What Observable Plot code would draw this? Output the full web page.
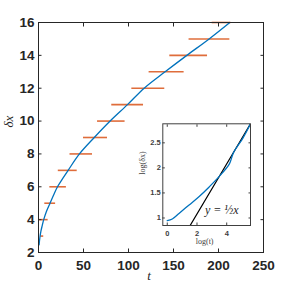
<!DOCTYPE html>
<html>
<head>
<meta charset="utf-8">
<script src="https://cdn.jsdelivr.net/npm/d3@7"></script>
<script src="https://cdn.jsdelivr.net/npm/@observablehq/plot@0.6"></script>
<style>
  html, body { margin: 0; padding: 0; background: #fff; }
  #wrap { position: relative; width: 291px; height: 291px; overflow: hidden; }
  #inset { position: absolute; left: 135px; top: 115px; }
  g[aria-label$="tick label"] text { font-weight: bold; }
</style>
</head>
<body>
<div id="wrap"><div id="main"></div><div id="inset"></div></div>
<script>
// Main curve (t, δx)
const curveT  = [0.7, 1.5, 2.7, 4.2, 5.8, 8.8, 12.8, 16.8, 21.1, 26.8, 32.9, 45.5, 62, 79.6, 98.9, 117.4, 140.7, 164.8, 189.6, 212.6];
const curveDx = [2.47, 2.9, 3.3, 3.65, 4, 4.5, 5, 5.5, 6, 6.5, 7, 8, 9, 10, 11, 12, 13, 14, 15, 16];
// Red horizontal segments: level and t range
const segLevel = [3, 4, 5, 6, 7, 8, 9, 10, 11, 12, 13, 14, 15, 16];
const segStart = [2.5, 0.7, 7, 12.6, 22, 35, 50, 65.6, 81.4, 103.7, 122.9, 145.9, 167.3, 193];
const segEnd   = [5.8, 10.7, 19, 31, 43, 60, 76.7, 96.2, 116.7, 140.3, 161.8, 187.8, 212.6, 213.7];
// Inset curve log(t), log(δx)
const insetLogT  = [0, 0.34, 0.79, 1.47, 2.15, 2.82, 3.5, 4.18, 4.45, 5.08, 5.6];
const insetLogDx = [0.947, 0.98, 1.09, 1.26, 1.43, 1.62, 1.83, 2.08, 2.30, 2.59, 2.88];
// Inset reference line y = x/2 (+ offset), endpoints
const refLineX = [1.54, 5.6];
const refLineY = [0.85, 2.88];
// Ticks
const xTicks = [0, 50, 100, 150, 200, 250];
const yTicks = [2, 4, 6, 8, 10, 12, 14, 16];
const insetXTicks = [0, 2, 4];
const insetYTicks = [1, 1.5, 2, 2.5];

const curve = curveT.map((t, i) => ({t, dx: curveDx[i]}));
const segs = segLevel.map((l, i) => ({level: l, t0: segStart[i], t1: segEnd[i]}));
const inset = insetLogT.map((x, i) => ({x, y: insetLogDx[i]}));
const ref = refLineX.map((x, i) => ({x, y: refLineY[i]}));

const ink = "#262626";
const main = Plot.plot({
  width: 291, height: 291,
  marginLeft: 38, marginRight: 28, marginTop: 22, marginBottom: 39,
  style: {fontFamily: "'Liberation Sans', Arial, sans-serif", color: ink, background: "white"},
  x: {domain: [0, 250]},
  y: {domain: [2, 16]},
  marks: [
    Plot.ruleY(segs, {y: "level", x1: "t0", x2: "t1", stroke: "#D95319", strokeWidth: 1.6, strokeOpacity: 0.85}),
    Plot.line(curve, {x: "t", y: "dx", stroke: "#0072BD", strokeWidth: 1.3, curve: "catmull-rom"}),
    Plot.frame({stroke: ink, strokeWidth: 1}),
    Plot.axisX({ticks: xTicks, anchor: "bottom", tickSize: -3.5, tickFormat: () => "", label: null, stroke: ink}),
    Plot.axisX({ticks: xTicks, anchor: "top", tickSize: -3.5, tickFormat: () => "", label: null, stroke: ink}),
    Plot.axisY({ticks: yTicks, anchor: "left", tickSize: -3.5, tickFormat: () => "", label: null, stroke: ink}),
    Plot.axisY({ticks: yTicks, anchor: "right", tickSize: -3.5, tickFormat: () => "", label: null, stroke: ink}),
    Plot.axisX({ticks: xTicks, anchor: "bottom", tickSize: 0, tickPadding: 8, label: null, fontSize: 13.5, fill: ink}),
    Plot.axisY({ticks: yTicks, anchor: "left", tickSize: 0, tickPadding: 4, label: null, fontSize: 13.5, fill: ink}),
    Plot.text(["δx"], {frameAnchor: "left", dx: -30, dy: -10, rotate: -90, fontSize: 13, fontStyle: "italic", fontFamily: "'Liberation Serif', serif", fill: ink}),
    Plot.text(["t"], {frameAnchor: "bottom", dx: -2, dy: 27, fontSize: 13, fontStyle: "italic", fontFamily: "'Liberation Serif', serif", fill: ink})
  ]
});
document.getElementById("main").appendChild(main);

const insetPlot = Plot.plot({
  width: 120, height: 140,
  marginLeft: 27.3, marginRight: 5, marginTop: 8.3, marginBottom: 30,
  style: {fontFamily: "'Liberation Sans', Arial, sans-serif", color: "#404040", background: "transparent"},
  x: {domain: [-0.3, 5.6]},
  y: {domain: [0.85, 2.88]},
  marks: [
    Plot.frame({fill: "white", stroke: "none"}),
    Plot.line(ref, {x: "x", y: "y", stroke: "black", strokeWidth: 1.2, clip: true}),
    Plot.line(inset, {x: "x", y: "y", stroke: "#0072BD", strokeWidth: 1.3, curve: "catmull-rom", clip: true}),
    Plot.frame({stroke: "#404040", strokeWidth: 1}),
    Plot.axisX({ticks: insetXTicks, anchor: "bottom", tickSize: -2.5, tickFormat: () => "", label: null}),
    Plot.axisX({ticks: insetXTicks, anchor: "top", tickSize: -2.5, tickFormat: () => "", label: null}),
    Plot.axisY({ticks: insetYTicks, anchor: "left", tickSize: -2.5, tickFormat: () => "", label: null}),
    Plot.axisY({ticks: insetYTicks, anchor: "right", tickSize: -2.5, tickFormat: () => "", label: null}),
    Plot.axisX({ticks: insetXTicks, anchor: "bottom", tickSize: 0, tickPadding: 5, label: null, fontSize: 7.5, fill: "#404040", tickFormat: d => String(d)}),
    Plot.axisY({ticks: insetYTicks, anchor: "left", tickSize: 0, tickPadding: 2, label: null, fontSize: 7.5, fill: "#404040", tickFormat: d => String(d)}),
    Plot.text(["log(t)"], {frameAnchor: "bottom", dx: -2, dy: 18, fontSize: 8, fontFamily: "'Liberation Serif', serif", fill: "#404040"}),
    Plot.text(["log(δx)"], {frameAnchor: "left", dx: -20, rotate: -90, fontSize: 8, fontFamily: "'Liberation Serif', serif", fill: "#404040"}),
    Plot.text(["y = ½x"], {x: [3.67], y: [1.16], fontSize: 12, fontStyle: "italic", fontFamily: "'Liberation Serif', serif", fill: ink})
  ]
});
document.getElementById("inset").appendChild(insetPlot);
</script>
</body>
</html>
